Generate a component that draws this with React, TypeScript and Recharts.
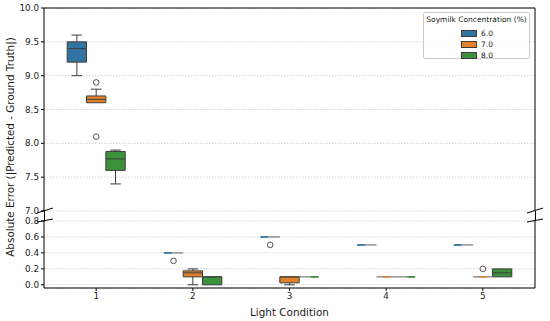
import React from 'react';
import {
  ComposedChart,
  XAxis,
  YAxis,
  CartesianGrid,
  ReferenceArea,
  ReferenceLine,
  Scatter,
} from 'recharts';

// ---------- data ----------
const categories = [1, 2, 3, 4, 5];
const seriesNames = ['6.0', '7.0', '8.0'];
const seriesColors = ['#3274A1', '#E1812C', '#3A923A'];
const seriesOffsets = [-0.2, 0, 0.2];
// [lowWhisker, q1, median, q3, highWhisker] per light condition
const conc60 = [
  [9.0, 9.2, 9.4, 9.5, 9.6],
  [0.4, 0.4, 0.4, 0.4, 0.4],
  [0.6, 0.6, 0.6, 0.6, 0.6],
  [0.5, 0.5, 0.5, 0.5, 0.5],
  [0.5, 0.5, 0.5, 0.5, 0.5],
];
const conc70 = [
  [8.6, 8.6, 8.65, 8.7, 8.8],
  [0.0, 0.1, 0.15, 0.175, 0.2],
  [0.0, 0.025, 0.1, 0.1, 0.1],
  [0.1, 0.1, 0.1, 0.1, 0.1],
  [0.1, 0.1, 0.1, 0.1, 0.1],
];
const conc80 = [
  [7.4, 7.6, 7.77, 7.88, 7.9],
  [0.0, 0.0, 0.1, 0.1, 0.1],
  [0.1, 0.1, 0.1, 0.1, 0.1],
  [0.1, 0.1, 0.1, 0.1, 0.1],
  [0.1, 0.1, 0.15, 0.2, 0.2],
];
const outliers60 = [[], [0.3], [0.5], [], []];
const outliers70 = [[8.9, 8.1], [], [], [], [0.2]];
const outliers80 = [[], [], [], [], []];
const seriesStats = [conc60, conc70, conc80];
const seriesOutliers = [outliers60, outliers70, outliers80];

const topTicks = [7.0, 7.5, 8.0, 8.5, 9.0, 9.5, 10.0];
const bottomTicks = [0.0, 0.2, 0.4, 0.6, 0.8];
const topDomain: [number, number] = [7, 10];
const bottomDomain: [number, number] = [-0.04, 0.8];
const xDomain: [number, number] = [0.46, 5.54];

// ---------- styling ----------
const FONT = 'DejaVu Sans, sans-serif';
const LINE = '#3d3d3d';
const HW = 0.1; // half box width (x units)
const CAP = 0.055;
const accentPos = [-0.6, 0, 0.6];

const inPanel = (v: number, d: [number, number]) => v >= d[0] && v <= d[1];

function buildBoxes(domain: [number, number]) {
  const els: any[] = [];
  seriesStats.forEach((stats, si) => {
    categories.forEach((cat, ci) => {
      const [lo, q1, med, q3, hi] = stats[ci];
      if (!inPanel(med, domain)) return;
      const x = cat + seriesOffsets[si];
      const k = `${si}-${ci}`;
      const color = seriesColors[si];
      if (lo < q1) {
        els.push(
          <ReferenceLine key={`wl${k}`} segment={[{ x, y: lo }, { x, y: q1 }]} stroke={LINE} strokeWidth={1} />
        );
        els.push(
          <ReferenceLine key={`cl${k}`} segment={[{ x: x - CAP, y: lo }, { x: x + CAP, y: lo }]} stroke={LINE} strokeWidth={1} />
        );
      }
      if (hi > q3) {
        els.push(
          <ReferenceLine key={`wh${k}`} segment={[{ x, y: q3 }, { x, y: hi }]} stroke={LINE} strokeWidth={1} />
        );
        els.push(
          <ReferenceLine key={`ch${k}`} segment={[{ x: x - CAP, y: hi }, { x: x + CAP, y: hi }]} stroke={LINE} strokeWidth={1} />
        );
      }
      if (q3 > q1) {
        els.push(
          <ReferenceArea
            key={`b${k}`}
            x1={x - HW}
            x2={x + HW}
            y1={q1}
            y2={q3}
            fill={color}
            fillOpacity={1}
            stroke={LINE}
            strokeWidth={1}
          />
        );
        els.push(
          <ReferenceLine key={`m${k}`} segment={[{ x: x - HW, y: med }, { x: x + HW, y: med }]} stroke={LINE} strokeWidth={1} />
        );
      } else {
        els.push(
          <ReferenceLine key={`f${k}`} segment={[{ x: x - HW, y: med }, { x: x + HW, y: med }]} stroke="#777" strokeWidth={1.2} />
        );
        const c = x + accentPos[si] * HW;
        els.push(
          <ReferenceLine
            key={`a${k}`}
            segment={[{ x: c - 0.4 * HW, y: med }, { x: c + 0.4 * HW, y: med }]}
            stroke={color}
            strokeWidth={1.6}
          />
        );
      }
    });
  });
  return els;
}

function outlierPoints(domain: [number, number]) {
  const pts: { x: number; y: number }[] = [];
  seriesOutliers.forEach((outs, si) => {
    categories.forEach((cat, ci) => {
      outs[ci].forEach((v) => {
        if (inPanel(v, domain)) pts.push({ x: cat + seriesOffsets[si], y: v });
      });
    });
  });
  return pts;
}

const FlierShape = (props: any) => (
  <circle cx={props.cx} cy={props.cy} r={2.8} fill="none" stroke={LINE} strokeWidth={0.9} />
);

const tickStyle = { fontSize: 8.8, fill: '#1a1a1a', fontFamily: FONT };

export default function App() {
  return (
    <div style={{ position: 'absolute', left: 0, top: 0, width: 550, height: 321, background: '#fff', fontFamily: FONT }}>
      {/* top panel */}
      <div style={{ position: 'absolute', left: 0, top: 0 }}>
        <ComposedChart width={550} height={222} margin={{ top: 8, right: 15, left: 0, bottom: 11 }}>
          <CartesianGrid vertical={false} stroke="#d4d4d4" strokeDasharray="1.5 1.5" />
          <XAxis type="number" dataKey="x" domain={xDomain} allowDataOverflow hide />
          <YAxis
            type="number"
            dataKey="y"
            domain={topDomain}
            allowDataOverflow
            ticks={topTicks}
            interval={0}
            width={44}
            tickFormatter={(v: number) => v.toFixed(1)}
            tick={tickStyle}
            tickSize={3}
            tickMargin={2}
            stroke="#000"
          />
          {buildBoxes(topDomain)}
          <Scatter data={outlierPoints(topDomain)} dataKey="y" shape={FlierShape} isAnimationActive={false} />
          <ReferenceLine y={10} stroke="#000" strokeWidth={1} />
          <ReferenceLine x={xDomain[1]} stroke="#000" strokeWidth={1} />
        </ComposedChart>
      </div>
      {/* bottom panel */}
      <div style={{ position: 'absolute', left: 0, top: 211 }}>
        <ComposedChart width={550} height={110} margin={{ top: 10, right: 15, left: 0, bottom: 0 }}>
          <CartesianGrid vertical={false} stroke="#d4d4d4" strokeDasharray="1.5 1.5" />
          <XAxis
            type="number"
            dataKey="x"
            domain={xDomain}
            allowDataOverflow
            ticks={categories}
            interval={0}
            height={33}
            tick={tickStyle}
            tickSize={3}
            tickMargin={2}
            stroke="#000"
            label={{ value: 'Light Condition', position: 'insideBottom', offset: 5, style: { fontSize: 10.4, fill: '#1a1a1a', fontFamily: FONT } }}
          />
          <YAxis
            type="number"
            dataKey="y"
            domain={bottomDomain}
            allowDataOverflow
            ticks={bottomTicks}
            interval={0}
            width={44}
            tickFormatter={(v: number) => v.toFixed(1)}
            tick={tickStyle}
            tickSize={3}
            tickMargin={2}
            stroke="#000"
          />
          {buildBoxes(bottomDomain)}
          <Scatter data={outlierPoints(bottomDomain)} dataKey="y" shape={FlierShape} isAnimationActive={false} />
          <ReferenceLine x={xDomain[1]} stroke="#000" strokeWidth={1} />
        </ComposedChart>
      </div>
      {/* spine continuation + break marks */}
      <svg width={550} height={321} style={{ position: 'absolute', left: 0, top: 0, pointerEvents: 'none' }}>
        <line x1={44.5} y1={211} x2={44.5} y2={221} stroke="#000" strokeWidth={1} />
        <line x1={535.5} y1={211} x2={535.5} y2={221} stroke="#000" strokeWidth={1} />
        <line x1={37} y1={213} x2={53} y2={208} stroke="#000" strokeWidth={1} />
        <line x1={37} y1={222} x2={53} y2={219} stroke="#000" strokeWidth={1} />
        <line x1={527} y1={213} x2={543} y2={208} stroke="#000" strokeWidth={1} />
        <line x1={527} y1={222} x2={543} y2={219} stroke="#000" strokeWidth={1} />
      </svg>
      {/* y axis label */}
      <div
        style={{
          position: 'absolute',
          left: 10,
          top: 147,
          width: 300,
          textAlign: 'center',
          fontSize: 10.4,
          color: '#1a1a1a',
          transform: 'translate(-50%, -50%) rotate(-90deg)',
          whiteSpace: 'nowrap',
        }}
      >
        Absolute Error (|Predicted - Ground Truth|)
      </div>
      {/* legend */}
      <div
        style={{
          position: 'absolute',
          left: 423,
          top: 12,
          width: 107,
          height: 47,
          border: '1px solid #ccc',
          borderRadius: 2,
          background: 'rgba(255,255,255,0.85)',
          boxSizing: 'border-box',
        }}
      >
        <div style={{ position: 'absolute', left: 0, top: 2, width: '100%', textAlign: 'center', fontSize: 7.5, color: '#1a1a1a', whiteSpace: 'nowrap' }}>
          Soymilk Concentration (%)
        </div>
        {seriesNames.map((n, i) => (
          <div key={n} style={{ position: 'absolute', left: 37, top: 15 + i * 11, height: 10, display: 'flex', alignItems: 'center' }}>
            <div style={{ width: 14, height: 5, background: seriesColors[i], border: `1px solid ${LINE}`, marginRight: 4 }} />
            <span style={{ fontSize: 7.5, color: '#1a1a1a' }}>{n}</span>
          </div>
        ))}
      </div>
    </div>
  );
}
